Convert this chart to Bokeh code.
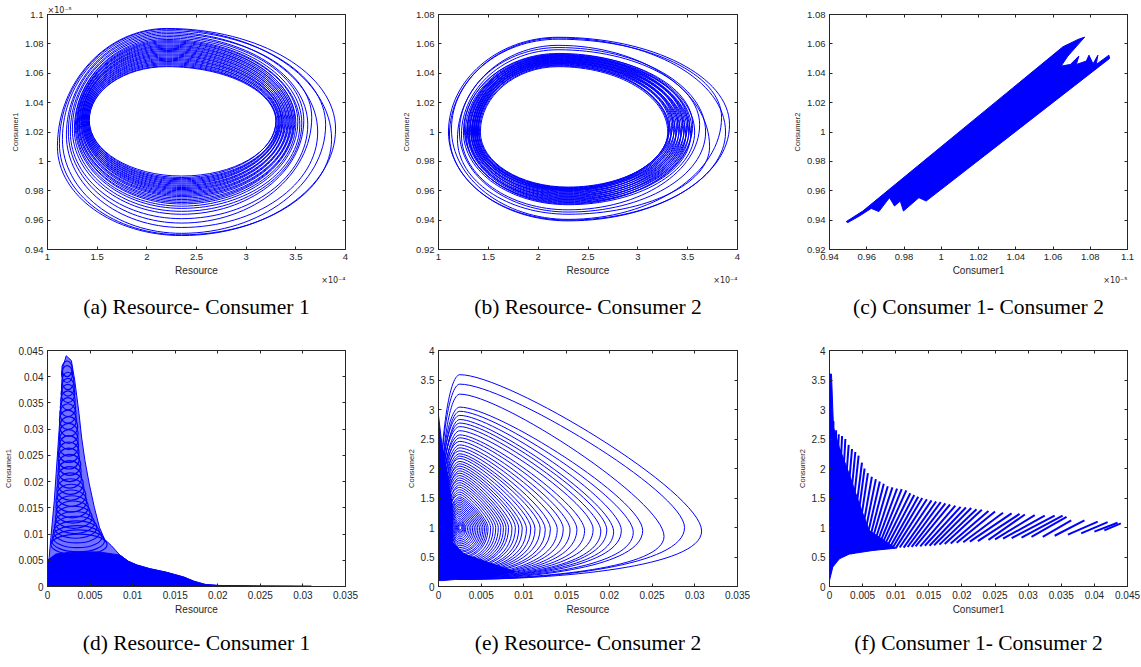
from bokeh.plotting import figure
from bokeh.models import (Range1d, FixedTicker, LinearAxis, CustomJSTickFormatter,
                          Title, ColumnDataSource)
from bokeh.layouts import column, row
from bokeh.embed import file_html
from bokeh.resources import INLINE

BLUE = "#0000ff"
AX = "#262626"

# ---------------- data ----------------
# (a) Resource (x1e-4) vs Consumer1 (x1e-5): one loop per entry
a_left = [1.10, 1.12, 1.15, 1.19, 1.21, 1.23, 1.25, 1.27, 1.28, 1.29, 1.30, 1.30, 1.31, 1.32, 1.32, 1.33, 1.34,
          1.34, 1.35, 1.35, 1.36, 1.36, 1.37, 1.37, 1.38, 1.38, 1.39, 1.39, 1.40, 1.40, 1.41, 1.41, 1.42, 1.42]
a_right = [3.90, 3.86, 3.80, 3.72, 3.66, 3.62, 3.58, 3.56, 3.54, 3.52, 3.50, 3.49, 3.48, 3.47, 3.46, 3.45, 3.44,
           3.43, 3.42, 3.41, 3.40, 3.39, 3.38, 3.37, 3.36, 3.36, 3.35, 3.34, 3.33, 3.33, 3.32, 3.31, 3.30, 3.30]
a_top = [1.0905, 1.0900, 1.0890, 1.0880, 1.0870, 1.0860, 1.0850, 1.0840, 1.0830, 1.0822, 1.0815, 1.0808, 1.0800,
         1.0792, 1.0785, 1.0778, 1.0770, 1.0763, 1.0755, 1.0748, 1.0740, 1.0732, 1.0725, 1.0718, 1.0710, 1.0702,
         1.0695, 1.0688, 1.0680, 1.0672, 1.0665, 1.0658, 1.0650, 1.0645]
a_bottom = [0.9495, 0.9500, 0.9510, 0.9550, 0.9580, 0.9610, 0.9640, 0.9660, 0.9680, 0.9695, 0.9710, 0.9720, 0.9730,
            0.9740, 0.9750, 0.9760, 0.9768, 0.9776, 0.9784, 0.9792, 0.9800, 0.9808, 0.9815, 0.9822, 0.9830, 0.9837,
            0.9845, 0.9852, 0.9860, 0.9867, 0.9875, 0.9882, 0.9890, 0.9900]
a_yleft = [1.010, 1.012, 1.015, 1.018, 1.020, 1.020, 1.022, 1.022, 1.024, 1.024, 1.025, 1.025, 1.026, 1.026, 1.026,
           1.027, 1.027, 1.027, 1.028, 1.028, 1.028, 1.028, 1.028, 1.028, 1.028, 1.028, 1.028, 1.028, 1.028, 1.028,
           1.028, 1.028, 1.028, 1.028]
a_yright = [1.022, 1.015, 1.025, 1.020, 1.030, 1.025, 1.028, 1.026, 1.025, 1.027, 1.026, 1.028, 1.027, 1.026, 1.028,
            1.027, 1.026, 1.028, 1.027, 1.026, 1.028, 1.027, 1.026, 1.028, 1.027, 1.026, 1.028, 1.027, 1.026, 1.028,
            1.027, 1.026, 1.028, 1.027]
a_top_x = 2.20
a_bottom_x = 2.35

# (b) Resource (x1e-4) vs Consumer2 (x1e-5)
b_left = [1.10, 1.11, 1.13, 1.19, 1.21, 1.23, 1.25, 1.26, 1.27, 1.28, 1.29, 1.29, 1.30, 1.31, 1.31, 1.32, 1.33,
          1.33, 1.34, 1.34, 1.35, 1.35, 1.36, 1.36, 1.37, 1.37, 1.38, 1.38, 1.39, 1.39, 1.40, 1.40, 1.41, 1.42]
b_right = [3.92, 3.88, 3.84, 3.72, 3.68, 3.62, 3.57, 3.55, 3.54, 3.53, 3.52, 3.51, 3.50, 3.49, 3.48, 3.47, 3.46,
           3.45, 3.44, 3.43, 3.42, 3.41, 3.40, 3.39, 3.38, 3.37, 3.36, 3.35, 3.34, 3.33, 3.32, 3.31, 3.31, 3.30]
b_top = [1.0645, 1.0640, 1.0632, 1.0590, 1.0575, 1.0560, 1.0535, 1.0530, 1.0527, 1.0524, 1.0521, 1.0518, 1.0515,
         1.0512, 1.0509, 1.0506, 1.0503, 1.0500, 1.0497, 1.0494, 1.0491, 1.0488, 1.0485, 1.0482, 1.0479, 1.0476,
         1.0473, 1.0470, 1.0467, 1.0463, 1.0459, 1.0455, 1.0450, 1.0445]
b_bottom = [0.9395, 0.9400, 0.9405, 0.9440, 0.9455, 0.9470, 0.9505, 0.9510, 0.9515, 0.9520, 0.9525, 0.9530, 0.9535,
            0.9540, 0.9545, 0.9550, 0.9555, 0.9560, 0.9565, 0.9570, 0.9575, 0.9580, 0.9585, 0.9590, 0.9595, 0.9600,
            0.9603, 0.9606, 0.9609, 0.9612, 0.9615, 0.9618, 0.9621, 0.9625]
b_yleft = [1.000, 0.998, 1.002, 0.995, 1.000, 0.998, 1.000, 1.002, 1.000, 0.998, 1.000, 1.002, 1.000, 0.998, 1.000,
           1.002, 1.000, 0.998, 1.000, 1.002, 1.000, 0.998, 1.000, 1.002, 1.000, 0.998, 1.000, 1.002, 1.000, 0.998,
           1.000, 1.002, 1.000, 1.000]
b_yright = [1.005, 1.000, 1.010, 0.990, 1.000, 1.005, 1.000, 1.005, 1.002, 0.998, 1.004, 1.000, 1.006, 1.002, 0.998,
            1.004, 1.000, 1.006, 1.002, 0.998, 1.004, 1.000, 1.006, 1.002, 0.998, 1.004, 1.000, 1.006, 1.002, 0.998,
            1.004, 1.000, 1.002, 1.000]
b_top_x = 2.20
b_bottom_x = 2.30

# (c) Consumer1 (x1e-5) vs Consumer2 (x1e-5): outline of the filled band
c_consumer1 = [0.9490, 0.9579, 1.0653, 1.0734, 1.0770, 1.0680, 1.0644, 1.0693, 1.0739, 1.0725, 1.0779, 1.0793,
               1.0815, 1.0841, 1.0832, 1.0900, 1.0904, 0.9919, 0.9880, 0.9797, 0.9780, 0.9749, 0.9722, 0.9665,
               0.9624, 0.9561, 0.9498]
c_consumer2 = [0.9390, 0.9462, 1.0580, 1.0630, 1.0646, 1.0517, 1.0449, 1.0460, 1.0517, 1.0460, 1.0483, 1.0523,
               1.0464, 1.0523, 1.0460, 1.0523, 1.0501, 0.9530, 0.9553, 0.9462, 0.9530, 0.9496, 0.9553, 0.9458,
               0.9480, 0.9428, 0.9383]

# (d) Resource vs Consumer1: outer envelope, dense base and stacked rings
d_env_resource = [0, 0, 0.0002, 0.0004, 0.0008, 0.0012, 0.0016, 0.0018, 0.0022, 0.0028, 0.0032, 0.0037, 0.0040,
                  0.0044, 0.0049, 0.0055, 0.0061, 0.0067, 0.0075, 0.0085, 0.0095, 0.0105, 0.0120, 0.0140, 0.0160,
                  0.0172, 0.0185, 0.0200, 0.0250, 0.0310, 0.0310]
d_env_consumer1 = [0, 0.0030, 0.0056, 0.0094, 0.0164, 0.0259, 0.0355, 0.0418, 0.0440, 0.0431, 0.0393, 0.0330,
                   0.0285, 0.0240, 0.0196, 0.0151, 0.0113, 0.0090, 0.0078, 0.0060, 0.0048, 0.0041, 0.0034, 0.0027,
                   0.0018, 0.0010, 0.0004, 0.0002, 0.0001, 0.00005, 0]
d_base_resource = [0, 0, 0.0010, 0.0030, 0.0060, 0.0085, 0.0095, 0.0105, 0.0120, 0.0140, 0.0160, 0.0172, 0.0185,
                   0.0200, 0.0250, 0.0310, 0.0310]
d_base_consumer1 = [0, 0.0050, 0.0062, 0.0066, 0.0066, 0.0060, 0.0048, 0.0041, 0.0034, 0.0027, 0.0018, 0.0010,
                    0.0004, 0.0002, 0.0001, 0.00005, 0]
d_ring_x = [0.0023, 0.0023, 0.0024, 0.0024, 0.0024, 0.0024, 0.0024, 0.0024, 0.0024, 0.0025, 0.0025, 0.0025, 0.0025,
            0.0025, 0.0025, 0.0026, 0.0026, 0.0026, 0.0027, 0.0027, 0.0028, 0.0028, 0.0029, 0.0030, 0.0031, 0.0032,
            0.0033, 0.0034, 0.0035, 0.0036, 0.0037]
d_ring_y = [0.0415, 0.0405, 0.0392, 0.0380, 0.0368, 0.0355, 0.0342, 0.0330, 0.0318, 0.0305, 0.0292, 0.0280, 0.0268,
            0.0256, 0.0244, 0.0232, 0.0220, 0.0208, 0.0196, 0.0185, 0.0174, 0.0163, 0.0152, 0.0142, 0.0132, 0.0122,
            0.0113, 0.0104, 0.0095, 0.0087, 0.0080]
d_ring_w = [0.0012, 0.0013, 0.0014, 0.0015, 0.0016, 0.0017, 0.0018, 0.0019, 0.0020, 0.0021, 0.0022, 0.0022, 0.0023,
            0.0024, 0.0025, 0.0026, 0.0027, 0.0028, 0.0030, 0.0032, 0.0034, 0.0036, 0.0038, 0.0040, 0.0043, 0.0046,
            0.0050, 0.0054, 0.0058, 0.0062, 0.0066]
d_ring_h = [0.0030, 0.0032, 0.0033, 0.0034, 0.0035, 0.0036, 0.0036, 0.0037, 0.0037, 0.0038, 0.0038, 0.0038, 0.0039,
            0.0039, 0.0040, 0.0040, 0.0040, 0.0041, 0.0041, 0.0041, 0.0042, 0.0042, 0.0042, 0.0042, 0.0042, 0.0042,
            0.0042, 0.0042, 0.0042, 0.0042, 0.0040]

# (e) Resource vs Consumer2: one loop per entry (outer to inner)
e_tip = [0.0308, 0.0288, 0.0264, 0.0239, 0.0228, 0.0214, 0.0205, 0.0197, 0.0190, 0.0181, 0.0171, 0.0162, 0.0154,
         0.0146, 0.0139, 0.0131, 0.0125, 0.0119, 0.0113, 0.0108, 0.0103, 0.0098, 0.0094, 0.0090, 0.0086, 0.0082,
         0.0079, 0.0076, 0.0073, 0.0070, 0.0067, 0.0064, 0.0061, 0.0058, 0.0056, 0.0054, 0.0052, 0.0050, 0.0048,
         0.0046, 0.0044, 0.0042, 0.0040, 0.0038, 0.0036, 0.0034, 0.0032, 0.0031, 0.0030, 0.0029, 0.0028, 0.0027]
e_top = [3.59, 3.43, 3.26, 3.04, 2.97, 2.90, 2.83, 2.77, 2.71, 2.64, 2.57, 2.52, 2.46, 2.40, 2.35, 2.30, 2.25, 2.21,
         2.17, 2.12, 2.08, 2.04, 2.00, 1.96, 1.92, 1.88, 1.84, 1.80, 1.76, 1.72, 1.68, 1.64, 1.60, 1.56, 1.52, 1.49,
         1.46, 1.43, 1.40, 1.37, 1.34, 1.31, 1.28, 1.25, 1.22, 1.19, 1.16, 1.13, 1.10, 1.08, 1.06, 1.04]
e_bottom = [0.12, 0.12, 0.13, 0.13, 0.14, 0.14, 0.15, 0.15, 0.16, 0.16, 0.17, 0.17, 0.18, 0.18, 0.19, 0.20, 0.21,
            0.22, 0.23, 0.24, 0.25, 0.26, 0.27, 0.29, 0.30, 0.32, 0.33, 0.35, 0.37, 0.39, 0.41, 0.43, 0.45, 0.48,
            0.50, 0.53, 0.55, 0.58, 0.60, 0.63, 0.66, 0.69, 0.72, 0.75, 0.78, 0.81, 0.84, 0.87, 0.90, 0.92, 0.94,
            0.96]
e_left = [0.0001, 0.0001, 0.0002, 0.0001, 0.0002, 0.0001, 0.0003, 0.0002, 0.0001, 0.0003, 0.0002, 0.0004, 0.0001,
          0.0003, 0.0005, 0.0002, 0.0004, 0.0006, 0.0003, 0.0005, 0.0007, 0.0004, 0.0006, 0.0008, 0.0005, 0.0007,
          0.0009, 0.0006, 0.0008, 0.0010, 0.0008, 0.0010, 0.0011, 0.0010, 0.0012, 0.0012, 0.0013, 0.0013, 0.0014,
          0.0014, 0.0015, 0.0015, 0.0016, 0.0016, 0.0017, 0.0018, 0.0019, 0.0020, 0.0021, 0.0022, 0.0023, 0.0024]
e_tip_y = [0.94, 1.00, 0.85, 0.95, 0.92, 0.95, 0.93, 0.96, 0.94, 0.97, 0.95, 0.97, 0.96, 0.98, 0.97, 0.98, 0.97,
           0.99, 0.98, 0.99, 0.98, 0.99, 0.99, 1.00, 0.99, 1.00, 1.00, 1.00, 1.00, 1.00, 1.00, 1.00, 1.00, 1.00,
           1.00, 1.00, 1.00, 1.00, 1.00, 1.00, 1.00, 1.00, 1.00, 1.00, 1.00, 1.00, 1.00, 1.00, 1.00, 1.00, 1.00,
           1.00]
e_left_y = 1.0
e_top_x = 0.0025
e_bottom_x = 0.0025
e_dense_resource = [0, 0, 0.0004, 0.0010, 0.0016, 0.0016, 0.0030, 0.0060, 0.0090, 0.0060, 0.0020, 0.0005]
e_dense_consumer2 = [0.10, 2.90, 2.40, 1.90, 1.40, 0.75, 0.55, 0.40, 0.25, 0.16, 0.12, 0.10]

# (f) Consumer1 vs Consumer2: strands from the lower edge to the upper edge
f_low_c1 = [0.0003, 0.0005, 0.0007, 0.0010, 0.0013, 0.0016, 0.0020, 0.0024, 0.0028, 0.0032, 0.0036, 0.0040,
            0.0044, 0.0048, 0.0052, 0.0056, 0.0060, 0.0064, 0.0068, 0.0072, 0.0076, 0.0080, 0.0085, 0.0090,
            0.0095, 0.0100, 0.0106, 0.0112, 0.0118, 0.0124, 0.0130, 0.0137, 0.0144, 0.0151, 0.0158, 0.0166,
            0.0174, 0.0183, 0.0192, 0.0202, 0.0212, 0.0224, 0.0240, 0.0250, 0.0262, 0.0275, 0.0290, 0.0305,
            0.0322, 0.0340, 0.0360, 0.0380, 0.0400, 0.0415]
f_low_c2 = [0.30, 0.35, 0.40, 0.43, 0.46, 0.48, 0.50, 0.52, 0.54, 0.55, 0.56, 0.57, 0.58, 0.59, 0.60, 0.60, 0.61,
            0.61, 0.62, 0.62, 0.63, 0.63, 0.64, 0.64, 0.65, 0.65, 0.66, 0.66, 0.67, 0.67, 0.68, 0.68, 0.69, 0.69,
            0.70, 0.71, 0.72, 0.73, 0.74, 0.75, 0.76, 0.77, 0.79, 0.80, 0.81, 0.82, 0.83, 0.84, 0.84, 0.86, 0.88,
            0.90, 0.93, 0.95]
f_high_c1 = [0.0006, 0.0010, 0.0014, 0.0019, 0.0024, 0.0029, 0.0034, 0.0039, 0.0044, 0.0049, 0.0053, 0.0058,
             0.0064, 0.0070, 0.0076, 0.0082, 0.0088, 0.0095, 0.0102, 0.0109, 0.0116, 0.0122, 0.0128, 0.0134,
             0.0140, 0.0147, 0.0154, 0.0161, 0.0168, 0.0175, 0.0182, 0.0190, 0.0198, 0.0206, 0.0214, 0.0222,
             0.0230, 0.0240, 0.0250, 0.0262, 0.0275, 0.0287, 0.0295, 0.0310, 0.0325, 0.0340, 0.0352, 0.0358,
             0.0365, 0.0385, 0.0405, 0.0420, 0.0435, 0.0440]
f_high_c2 = [2.80, 2.65, 2.58, 2.55, 2.50, 2.40, 2.33, 2.28, 2.22, 2.10, 2.00, 1.92, 1.86, 1.82, 1.78, 1.74, 1.70,
             1.68, 1.66, 1.65, 1.63, 1.58, 1.55, 1.52, 1.50, 1.48, 1.46, 1.44, 1.43, 1.41, 1.39, 1.37, 1.35, 1.34,
             1.33, 1.31, 1.30, 1.28, 1.27, 1.25, 1.24, 1.23, 1.22, 1.21, 1.20, 1.20, 1.20, 1.18, 1.12, 1.12, 1.10,
             1.09, 1.08, 1.07]
f_dense_c1 = [0, 0.0005, 0.0015, 0.0030, 0.0065, 0.0100, 0.0060, 0.0045, 0.0030, 0.0015, 0.0006, 0.0003, 0]
f_dense_c2 = [0.10, 0.33, 0.47, 0.55, 0.61, 0.65, 0.95, 1.40, 1.90, 2.35, 2.70, 3.60, 3.60]

# axis ticks
ticks_res_e4 = [1, 1.5, 2, 2.5, 3, 3.5, 4]
ticks_c1_e5 = [0.94, 0.96, 0.98, 1.0, 1.02, 1.04, 1.06, 1.08, 1.1]
ticks_c2_e5 = [0.92, 0.94, 0.96, 0.98, 1.0, 1.02, 1.04, 1.06, 1.08]
ticks_c1x_e5 = [0.94, 0.96, 0.98, 1.0, 1.02, 1.04, 1.06, 1.08, 1.1]
ticks_res = [0, 0.005, 0.01, 0.015, 0.02, 0.025, 0.03, 0.035]
ticks_c1 = [0, 0.005, 0.01, 0.015, 0.02, 0.025, 0.03, 0.035, 0.04, 0.045]
ticks_c2 = [0, 0.5, 1, 1.5, 2, 2.5, 3, 3.5, 4]

captions = ["(a) Resource- Consumer 1", "(b) Resource- Consumer 2", "(c) Consumer 1- Consumer 2",
            "(d) Resource- Consumer 1", "(e) Resource- Consumer 2", "(f) Consumer 1- Consumer 2"]

# ---------------- helpers ----------------
FMT = "return String(Number(tick.toFixed(6)));"


def make_fig(w, h, ml, mr, mt, mb, xr, yr, xt, yt, xlabel, ylabel, tsize):
    p = figure(width=w, height=h, x_range=Range1d(*xr), y_range=Range1d(*yr),
               output_backend="svg", toolbar_location=None,
               min_border_left=ml, min_border_right=mr, min_border_top=mt, min_border_bottom=mb)
    p.grid.visible = False
    p.outline_line_color = AX
    p.outline_line_width = 1
    p.background_fill_color = "white"
    p.border_fill_color = "white"
    for ax, ticks, lab in ((p.xaxis[0], xt, xlabel), (p.yaxis[0], yt, ylabel)):
        ax.ticker = FixedTicker(ticks=ticks)
        ax.formatter = CustomJSTickFormatter(code=FMT)
        ax.axis_label = lab
        ax.axis_line_color = AX
        ax.major_tick_line_color = AX
        ax.major_tick_in = 3
        ax.major_tick_out = 0
        ax.minor_tick_line_color = None
        ax.major_label_text_font = "Liberation Sans"
        ax.major_label_text_font_size = tsize
        ax.major_label_text_color = AX
        ax.major_label_standoff = 4
        ax.axis_label_text_font = "Liberation Sans"
        ax.axis_label_text_font_style = "normal"
        ax.axis_label_text_color = AX
        ax.axis_label_standoff = 2
    p.xaxis[0].axis_label_text_font_size = "10px"
    p.yaxis[0].axis_label_text_font_size = "7.5px"
    for loc, ticks in (("right", yt), ("above", xt)):
        ax = LinearAxis(ticker=FixedTicker(ticks=ticks), major_tick_in=3, major_tick_out=0,
                        formatter=CustomJSTickFormatter(code="return '';"),
                        major_label_text_color=None, major_label_text_font_size="1px",
                        major_label_standoff=0,
                        axis_line_color=AX, major_tick_line_color=AX, minor_tick_line_color=None)
        p.add_layout(ax, loc)
    return p


def add_exp(p, txt, loc, align, standoff):
    p.add_layout(Title(text=txt, align=align, text_font="DejaVu Sans", text_font_size="8px",
                       text_font_style="normal", text_color=AX, standoff=standoff), loc)


def add_caption(p, txt, standoff):
    p.add_layout(Title(text=txt, align="center", text_font="Liberation Serif",
                       text_font_size="21.5px", text_font_style="normal", text_color="black",
                       standoff=standoff), "below")


def loops_source(L, R, T, B, yl, yr, xt, xb, k):
    cols = {c: [] for c in ("x0", "y0", "x1", "y1", "cx0", "cy0", "cx1", "cy1")}
    n = len(L)
    yl = yl if isinstance(yl, list) else [yl] * n
    yr = yr if isinstance(yr, list) else [yr] * n
    xt = xt if isinstance(xt, list) else [xt] * n
    xb = xb if isinstance(xb, list) else [xb] * n
    for i in range(n):
        l, r, t, b, ya, yb, xti, xbi = L[i], R[i], T[i], B[i], yl[i], yr[i], xt[i], xb[i]
        segs = [
            ((l, ya), (l, ya + k[0] * (t - ya)), (xti - k[1] * (xti - l), t), (xti, t)),
            ((xti, t), (xti + k[2] * (r - xti), t), (r, yb + k[3] * (t - yb)), (r, yb)),
            ((r, yb), (r, yb - k[4] * (yb - b)), (xbi + k[5] * (r - xbi), b), (xbi, b)),
            ((xbi, b), (xbi - k[6] * (xbi - l), b), (l, ya - k[7] * (ya - b)), (l, ya)),
        ]
        for p0, c0, c1, p1 in segs:
            cols["x0"].append(p0[0]); cols["y0"].append(p0[1])
            cols["cx0"].append(c0[0]); cols["cy0"].append(c0[1])
            cols["cx1"].append(c1[0]); cols["cy1"].append(c1[1])
            cols["x1"].append(p1[0]); cols["y1"].append(p1[1])
    return ColumnDataSource(cols)


def draw_loops(p, src, lw=1.0):
    p.bezier(x0="x0", y0="y0", x1="x1", y1="y1", cx0="cx0", cy0="cy0", cx1="cx1", cy1="cy1",
             source=src, line_color=BLUE, line_width=lw)


ELL = [0.55] * 8
TRI = [0.55, 0.55, 0.2, 0.25, 0.75, 0.4, 0.55, 0.55]

# ---------------- row 1 ----------------
pa = make_fig(391, 336, 47, 46, 14, 87, (1, 4), (0.94, 1.1), ticks_res_e4, ticks_c1_e5,
              "Resource", "Consumer1", "9.5px")
draw_loops(pa, loops_source(a_left, a_right, a_top, a_bottom, a_yleft, a_yright, a_top_x, a_bottom_x, ELL))
add_exp(pa, "×10⁻⁵", "above", "left", 0)
add_exp(pa, "×10⁻⁴", "below", "right", -13)
add_caption(pa, captions[0], 29)

pb = make_fig(391, 336, 47, 45, 14, 87, (1, 4), (0.92, 1.08), ticks_res_e4, ticks_c2_e5,
              "Resource", "Consumer2", "9.5px")
draw_loops(pb, loops_source(b_left, b_right, b_top, b_bottom, b_yleft, b_yright, b_top_x, b_bottom_x, ELL))
add_exp(pb, "×10⁻⁴", "below", "right", -13)
add_caption(pb, captions[1], 29)

pc = make_fig(359, 336, 47, 14, 14, 87, (0.94, 1.1), (0.92, 1.08), ticks_c1x_e5, ticks_c2_e5,
              "Consumer1", "Consumer2", "9.5px")
pc.patch(c_consumer1, c_consumer2, fill_color=BLUE, line_color=BLUE, line_width=1)
add_exp(pc, "×10⁻⁵", "below", "right", -13)
add_caption(pc, captions[2], 29)

# ---------------- row 2 ----------------
pd = make_fig(391, 331, 47, 46, 14, 81, (0, 0.035), (0, 0.045), ticks_res, ticks_c1,
              "Resource", "Consumer1", "10px")
pd.patch(d_env_resource, d_env_consumer1, fill_color=BLUE, fill_alpha=0.55, line_color=BLUE, line_width=1)
pd.patch(d_base_resource, d_base_consumer1, fill_color=BLUE, line_color=BLUE, line_width=1)
pd.ellipse(x=d_ring_x, y=d_ring_y, width=d_ring_w, height=d_ring_h, fill_color=None,
           line_color=BLUE, line_width=1.2)
add_caption(pd, captions[3], 23)

pe = make_fig(391, 331, 47, 45, 14, 81, (0, 0.035), (0, 4), ticks_res, ticks_c2,
              "Resource", "Consumer2", "10px")
pe.patch(e_dense_resource, e_dense_consumer2, fill_color=BLUE, line_color=BLUE, line_width=1)
draw_loops(pe, loops_source(e_left, e_tip, e_top, e_bottom, e_left_y, e_tip_y, e_top_x, e_bottom_x, TRI))
add_caption(pe, captions[4], 23)

pf = make_fig(359, 331, 47, 14, 14, 81, (0, 0.045), (0, 4), ticks_c1, ticks_c2,
              "Consumer1", "Consumer2", "10px")
pf.patch(f_dense_c1, f_dense_c2, fill_color=BLUE, line_color=BLUE, line_width=1)
pf.segment(x0=f_low_c1, y0=f_low_c2, x1=f_high_c1, y1=f_high_c2, line_color=BLUE, line_width=2)
add_caption(pf, captions[5], 23)

layout = column(row(pa, pb, pc, spacing=0), row(pd, pe, pf, spacing=0), spacing=0)
open("out.html", "w").write(file_html(layout, INLINE))
